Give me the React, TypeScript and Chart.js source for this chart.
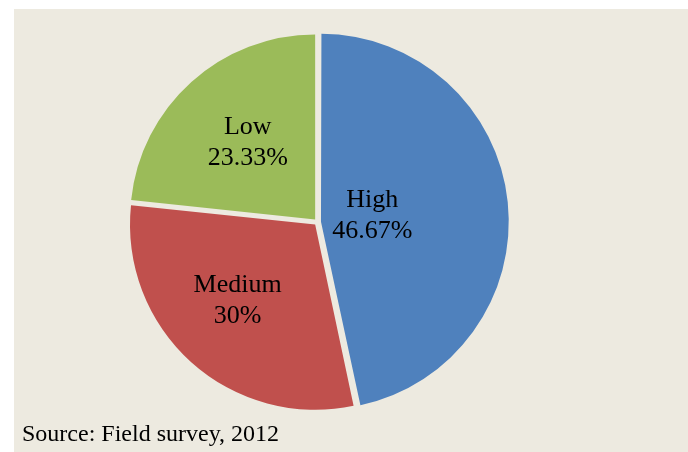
import React, { useEffect, useRef } from "react";
import { Chart, registerables } from "chart.js";

Chart.register(...registerables);

const categories = ["High", "Medium", "Low"];
const shares = [46.67, 30, 23.33];
const shareLabels = ["46.67%", "30%", "23.33%"];
const sliceColors = ["#4F81BD", "#C0504D", "#9BBB59"];
const labelRadius = [0.3, 0.6, 0.578];
const labelAngleShift = [-2.8, 4, 1.3];
const sourceNote = "Source: Field survey, 2012";

const BG = "#EDEAE0";
const FONT = '"Liberation Serif", "Times New Roman", serif';

const labelPlugin = {
  id: "sliceLabels",
  afterDatasetsDraw(chart: any) {
    const ctx = chart.ctx;
    const meta = chart.getDatasetMeta(0);
    ctx.save();
    ctx.fillStyle = "#000";
    ctx.font = `26px ${FONT}`;
    ctx.textAlign = "center";
    ctx.textBaseline = "alphabetic";
    meta.data.forEach((arc: any, i: number) => {
      const p = arc.getProps(["x", "y", "startAngle", "endAngle", "outerRadius"], true);
      const mid = (p.startAngle + p.endAngle) / 2 + (labelAngleShift[i] * Math.PI) / 180;
      const r = p.outerRadius * labelRadius[i];
      const cx = p.x + Math.cos(mid) * r;
      const cy = p.y + Math.sin(mid) * r;
      ctx.fillText(categories[i], cx, cy - 7);
      ctx.fillText(shareLabels[i], cx, cy + 24);
    });
    ctx.restore();
  },
};

export default function App() {
  const ref = useRef<HTMLCanvasElement | null>(null);
  useEffect(() => {
    if (!ref.current) return;
    const chart = new Chart(ref.current, {
      type: "pie",
      data: {
        labels: categories,
        datasets: [
          {
            data: shares,
            backgroundColor: sliceColors,
            borderWidth: 0,
            offset: 14,
          },
        ],
      },
      options: {
        animation: false,
        responsive: false,
        maintainAspectRatio: false,
        layout: { padding: { left: 111, right: 178, top: 21, bottom: 38 } },
        plugins: {
          legend: { display: false },
          tooltip: { enabled: false },
        },
      },
      plugins: [labelPlugin],
    });
    return () => chart.destroy();
  }, []);

  return (
    <div style={{ position: "fixed", left: 0, top: 0, width: 688, height: 452, background: "#fff", overflow: "hidden" }}>
      <div style={{ position: "absolute", left: 14, top: 9, width: 674, height: 443, background: BG }}>
        <canvas ref={ref} width={674} height={443} style={{ display: "block", width: 674, height: 443 }} />
        <div
          style={{
            position: "absolute",
            left: 8,
            top: 411,
            fontFamily: FONT,
            fontSize: 24,
            lineHeight: "26px",
            color: "#000",
            whiteSpace: "nowrap",
          }}
        >
          {sourceNote}
        </div>
      </div>
    </div>
  );
}
